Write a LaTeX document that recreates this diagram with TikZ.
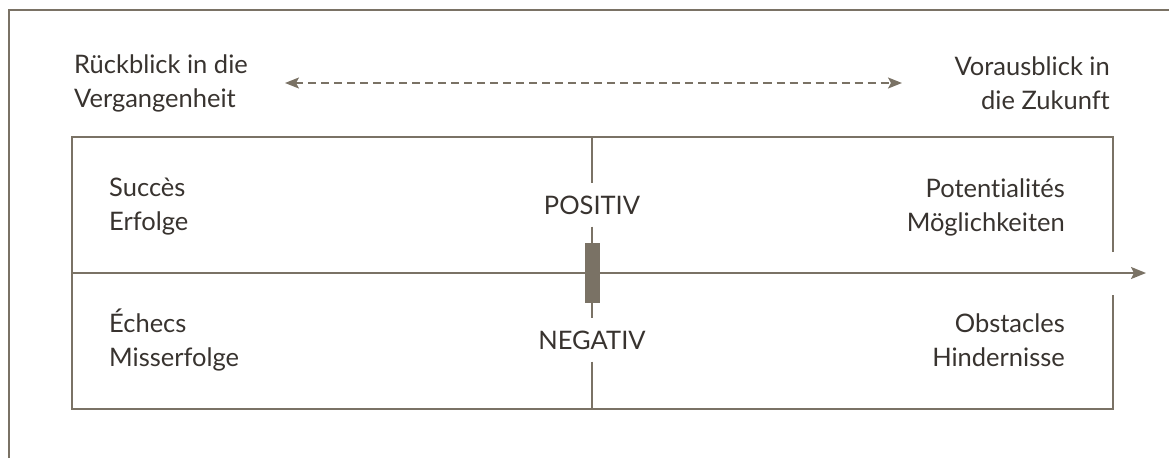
\documentclass[tikz,border=0pt]{standalone}
\usepackage{fontspec}
\setmainfont{Lato}[Ligatures={NoCommon,NoDiscretionary}]
\usetikzlibrary{arrows.meta}
\definecolor{linec}{HTML}{7A7265}
\definecolor{textc}{HTML}{38332F}
\begin{document}
\begin{tikzpicture}[x=1pt,y=-1pt,
  lbl/.style={font=\fontsize{25.5}{34}\selectfont, text=textc, inner sep=0pt},
  ln/.style={draw=linec, line width=2pt},
  tip/.style={-{Stealth[length=15pt,width=12pt,inset=3pt]}},
  mid/.style={lbl, minimum height=43pt, inner xsep=2pt}]
\useasboundingbox (0,0) rectangle (1169,458);
% outer frame (top and left edges)
\draw[ln] (9,458) -- (9,10) -- (1169,10);
% inner box
\coordinate (tl) at (72,137);
\coordinate (tr) at (1113,137);
\coordinate (br) at (1113,409);
\coordinate (bl) at (72,409);
\coordinate (rgapTop) at (1113,252);
\coordinate (rgapBot) at (1113,295);
\draw[ln] (rgapTop) -- (tr) -- (tl) -- (bl) -- (br) -- (rgapBot);
% top labels and dashed arrow
\node[lbl, anchor=west, align=left] (past) at (74,83) {Rückblick in die\\Vergangenheit};
\node[lbl, anchor=east, align=right] (future) at (1110,83) {Vorausblick in\\die Zukunft};
\coordinate (dl) at (285,83);
\coordinate (dr) at (902,83);
\draw[ln, line width=1.6pt, dash pattern=on 8pt off 5pt, {Stealth[length=14pt,width=11pt,inset=3pt]}-{Stealth[length=14pt,width=11pt,inset=3pt]}] (dl) -- (dr);
% quadrant labels
\node[lbl, anchor=west, align=left] (succ) at (109,207) {Succès\\Erfolge};
\node[lbl, anchor=west, align=left] (ech) at (109,340) {Échecs\\Misserfolge};
\node[lbl, anchor=east, align=right] (pot) at (1065,207) {Potentialités\\Möglichkeiten};
\node[lbl, anchor=east, align=right] (obs) at (1065,340) {Obstacles\\Hindernisse};
% centre axis
\coordinate (mt) at (592,137);
\coordinate (mb) at (592,409);
\node[mid] (pos) at (592,205) {POSITIV};
\node[mid] (neg) at (592,340) {NEGATIV};
\coordinate (al) at (72,273);
\coordinate (ar) at (1146,273);
\draw[ln, tip] (al) -- (ar);
\node[fill=linec, minimum width=15pt, minimum height=60pt, inner sep=0pt] (bar) at (592,273) {};
\draw[ln] (mt) -- (pos.north);
\draw[ln] (pos.south) -- (bar.north);
\draw[ln] (bar.south) -- (neg.north);
\draw[ln] (neg.south) -- (mb);
\end{tikzpicture}
\end{document}
